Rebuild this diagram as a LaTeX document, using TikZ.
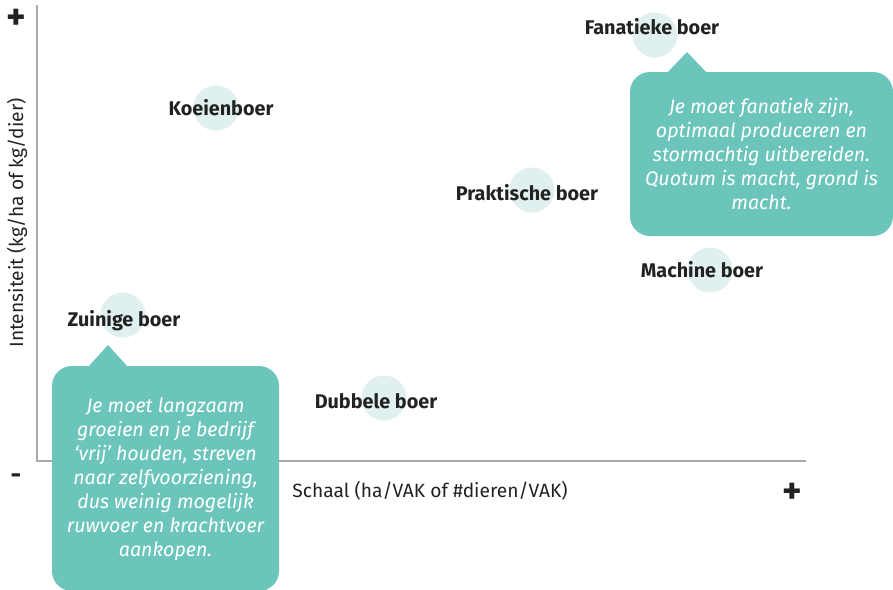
\documentclass[tikz,border=0pt]{standalone}
\usepackage{fontspec}
\setmainfont{Fira Sans}
\definecolor{axisgray}{HTML}{A8A8A8}
\definecolor{bubble}{HTML}{DFF0EE}
\definecolor{callteal}{HTML}{6CC5BB}
\definecolor{txtdark}{HTML}{222222}
\tikzset{
  axisline/.style={draw=axisgray, line width=1.3pt},
  dot/.style={circle, fill=bubble, minimum size=45pt, inner sep=0pt},
  farmer/.style={font=\fontsize{19.8}{22}\selectfont\bfseries, text=txtdark, inner sep=0pt},
  calloutbox/.style={fill=callteal, rounded corners=20pt, inner sep=0pt},
  callouttext/.style={font=\fontsize{19.6}{24}\selectfont\itshape, text=white, align=center, inner sep=0pt},
  sign/.style={font=\fontsize{37}{37}\selectfont\bfseries, text=txtdark, inner sep=0pt},
  axislabel/.style={font=\fontsize{19.2}{22}\selectfont, text=txtdark, inner sep=0pt}
}
\begin{document}
\begin{tikzpicture}[x=1pt,y=-1pt]
\useasboundingbox (0,0) rectangle (893,589);
% axes
\coordinate (top) at (37,5);
\coordinate (origin) at (37,461);
\coordinate (right) at (806,461);
\draw[axisline] (top) -- (origin) -- (right);
\node[sign] (plusy) at (16,19) {+};
\node[sign, font=\fontsize{26}{26}\selectfont\bfseries] (minus) at (16,479) {-};
\node[sign] (plusx) at (792,493) {+};
\node[axislabel, rotate=90] (ylab) at (17,223) {Intensiteit (kg/ha of kg/dier)};
\node[axislabel] (xlab) at (430,491) {Schaal (ha/VAK of \#dieren/VAK)};
% bubbles
\node[dot] (c1) at (216,108) {};
\node[dot] (c2) at (655,35) {};
\node[dot] (c3) at (532,190) {};
\node[dot] (c4) at (710,270) {};
\node[dot] (c5) at (123,315) {};
\node[dot] (c6) at (384,398) {};
\node[farmer] (t1) at (221,108) {Koeienboer};
\node[farmer] (t2) at (652,27) {Fanatieke boer};
\node[farmer] (t3) at (527,193) {Praktische boer};
\node[farmer] (t4) at (702,270) {Machine boer};
\node[farmer] (t5) at (124,321) {Zuinige boer};
\node[farmer] (t6) at (376,401) {Dubbele boer};
% right callout
\node[calloutbox, minimum width=263pt, minimum height=164pt] (cr) at (761.5,154) {};
\coordinate (crtip) at (687,52);
\fill[callteal] (crtip) -- (707,73) -- (667,73) -- cycle;
\node[callouttext] (crt) at (cr.center) {Je moet fanatiek zijn,\\optimaal produceren en\\stormachtig uitbereiden.\\Quotum is macht, grond is\\macht.};
% left callout
\node[calloutbox, minimum width=227pt, minimum height=225pt] (cl) at (165.5,478.5) {};
\coordinate (cltip) at (108,345);
\fill[callteal] (cltip) -- (128,367) -- (88,367) -- cycle;
\node[callouttext] (clt) at (165.5,479) {Je moet langzaam\\groeien en je bedrijf\\‘vrij’ houden, streven\\naar zelfvoorziening,\\dus weinig mogelijk\\ruwvoer en krachtvoer\\aankopen.};
\end{tikzpicture}
\end{document}
